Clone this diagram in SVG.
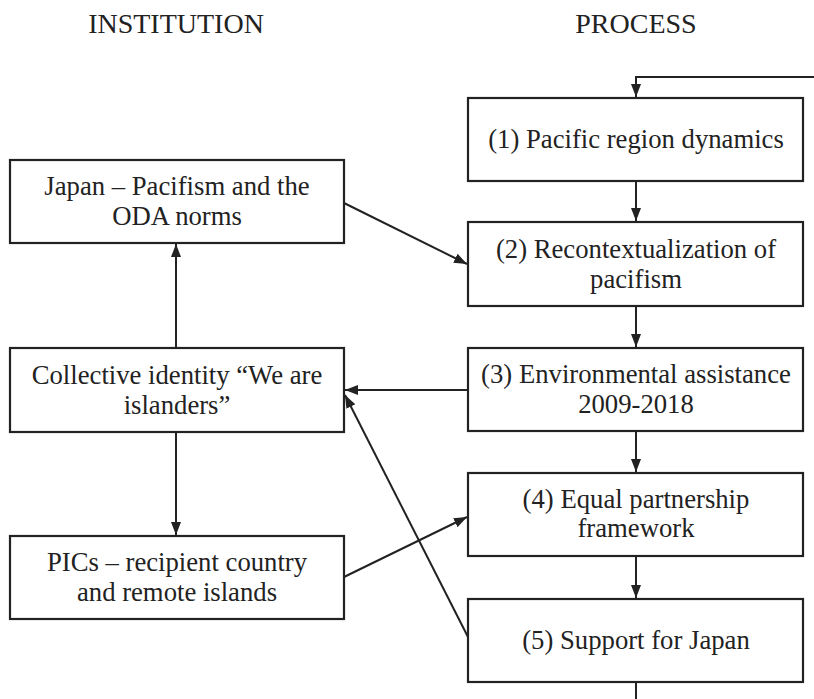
<svg xmlns="http://www.w3.org/2000/svg" width="814" height="699" viewBox="0 0 814 699">
<style>
.box{fill:#fff;stroke:#222;stroke-width:2.2}
.t{font-family:"Liberation Serif","Times New Roman",serif;font-size:26.7px;fill:#222;text-anchor:middle}
.h{font-family:"Liberation Serif","Times New Roman",serif;font-size:28px;fill:#222;text-anchor:middle}
.c{fill:none;stroke:#222;stroke-width:2}
</style>
<defs>
<marker id="ah" markerUnits="userSpaceOnUse" markerWidth="14" markerHeight="11" refX="13" refY="5" orient="auto">
<path d="M0,0 L13,5 L0,10 z" fill="#222"/>
</marker>
</defs>
<rect width="814" height="699" fill="#fff"/>
<text class="h" x="176" y="33">INSTITUTION</text>
<text class="h" x="636" y="33">PROCESS</text>
<g id="connectors">
<path class="c" d="M814,77 H636 V97" marker-end="url(#ah)"/>
<path class="c" d="M636,181 V221" marker-end="url(#ah)"/>
<path class="c" d="M636,306 V347" marker-end="url(#ah)"/>
<path class="c" d="M636,431 V472" marker-end="url(#ah)"/>
<path class="c" d="M636,556 V598" marker-end="url(#ah)"/>
<path class="c" d="M636,682 V699"/>
<path class="c" d="M176,348 V244" marker-end="url(#ah)"/>
<path class="c" d="M176,432 V535" marker-end="url(#ah)"/>
<path class="c" d="M344,203 L467,264" marker-end="url(#ah)"/>
<path class="c" d="M468,390 H345" marker-end="url(#ah)"/>
<path class="c" d="M468,637 L345,395" marker-end="url(#ah)"/>
<path class="c" d="M344,577 L467,517" marker-end="url(#ah)"/>
</g>
<g id="japan">
<rect class="box" x="10" y="160" width="334" height="83"/>
<text class="t" x="177" y="195">Japan – Pacifism and the</text>
<text class="t" x="177" y="225">ODA norms</text>
</g>
<g id="collective">
<rect class="box" x="10" y="348" width="334" height="84"/>
<text class="t" x="177" y="384">Collective identity “We are</text>
<text class="t" x="177" y="414">islanders”</text>
</g>
<g id="pics">
<rect class="box" x="10" y="536" width="334" height="83"/>
<text class="t" x="177" y="571">PICs – recipient country</text>
<text class="t" x="177" y="601">and remote islands</text>
</g>
<g id="p1">
<rect class="box" x="468" y="98" width="335" height="83"/>
<text class="t" x="636" y="148">(1) Pacific region dynamics</text>
</g>
<g id="p2">
<rect class="box" x="468" y="222" width="335" height="84"/>
<text class="t" x="636" y="258">(2) Recontextualization of</text>
<text class="t" x="636" y="288">pacifism</text>
</g>
<g id="p3">
<rect class="box" x="468" y="348" width="335" height="83"/>
<text class="t" x="636" y="383">(3) Environmental assistance</text>
<text class="t" x="636" y="413">2009-2018</text>
</g>
<g id="p4">
<rect class="box" x="468" y="473" width="335" height="83"/>
<text class="t" x="636" y="508">(4) Equal partnership</text>
<text class="t" x="636" y="537">framework</text>
</g>
<g id="p5">
<rect class="box" x="468" y="599" width="335" height="83"/>
<text class="t" x="636" y="649">(5) Support for Japan</text>
</g>
</svg>
